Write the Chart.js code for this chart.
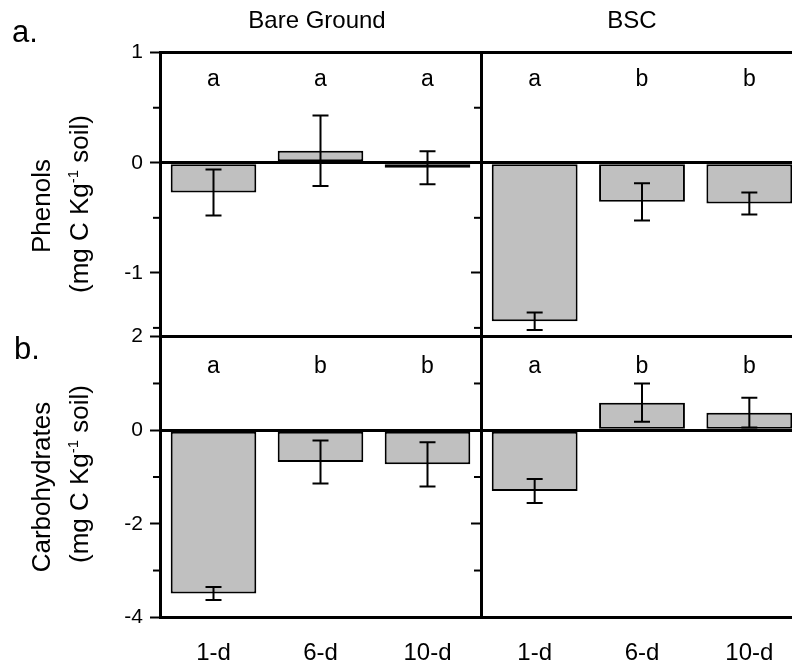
<!DOCTYPE html>
<html>
<head>
<meta charset="utf-8">
<script src="https://cdn.jsdelivr.net/npm/chart.js@4.4.0/dist/chart.umd.min.js"></script>
<style>
  body { margin: 0; background: #fff; }
  #wrap { position: relative; width: 792px; height: 668px; overflow: hidden;
          font-family: "Liberation Sans", Arial, sans-serif; color: #000; }
  #wrap canvas { position: absolute; left: 0; top: 0; }
  .lbl { position: absolute; white-space: nowrap; }
  .center { transform: translateX(-50%); }
  .ytitle { position: absolute; white-space: nowrap; font-size: 26px; line-height: 26px;
            transform: translate(-50%, -50%) rotate(-90deg); }
  .ytitle sup { font-size: 15px; line-height: 0; vertical-align: 10px; }
</style>
</head>
<body>
<div id="wrap">
  <canvas id="phenBare" width="810" height="668"></canvas>
  <canvas id="phenBsc" width="810" height="668"></canvas>
  <canvas id="carbBare" width="810" height="668"></canvas>
  <canvas id="carbBsc" width="810" height="668"></canvas>

  <div class="lbl center" style="left:317px;top:8px;font-size:24px;line-height:24px">Bare Ground</div>
  <div class="lbl center" style="left:632px;top:8px;font-size:24px;line-height:24px">BSC</div>
  <div class="lbl" style="left:12px;top:17px;font-size:31px;line-height:30px">a.</div>
  <div class="lbl" style="left:14px;top:334px;font-size:31px;line-height:30px">b.</div>

  <div class="ytitle" style="left:41px;top:206px">Phenols</div>
  <div class="ytitle" style="left:79px;top:204px">(mg C Kg<sup>-1</sup> soil)</div>
  <div class="ytitle" style="left:41px;top:487px">Carbohydrates</div>
  <div class="ytitle" style="left:79px;top:474px">(mg C Kg<sup>-1</sup> soil)</div>
</div>
<script>
// categories
const days = ['1-d', '6-d', '10-d'];

// Phenols (a.)
const phenolsBare = [-0.27, 0.11, -0.045];
const phenolsBareErr = [0.21, 0.32, 0.15];
const phenolsBareLetters = ['a', 'a', 'a'];
const phenolsBsc = [-1.44, -0.355, -0.37];
const phenolsBscErr = [0.08, 0.17, 0.10];
const phenolsBscLetters = ['a', 'b', 'b'];
const phenolsRange = [-1.58, 1];
const phenolsTicks = [1, 0, -1];
const phenolsMinor = [0.5, -0.5, -1.5];

// Carbohydrates (b.)
const carbsBare = [-3.49, -0.68, -0.73];
const carbsBareErr = [0.14, 0.46, 0.475];
const carbsBareLetters = ['a', 'b', 'b'];
const carbsBsc = [-1.30, 0.59, 0.376];
const carbsBscErr = [0.255, 0.41, 0.32];
const carbsBscLetters = ['a', 'b', 'b'];
const carbsRange = [-4, 2];
const carbsTicks = [2, 0, -2, -4];
const carbsMinor = [1, -1, -3];

const FONT = '"Liberation Sans", Arial, sans-serif';
const CANVAS_W = 810, CANVAS_H = 668;

// error bars drawn from the y scale
const errorBars = {
  id: 'errorBars',
  afterDatasetsDraw(chart, args, opts) {
    const ctx = chart.ctx;
    const y = chart.scales.y;
    const vals = chart.data.datasets[0].data;
    ctx.save();
    ctx.strokeStyle = '#000';
    ctx.lineWidth = 2;
    chart.getDatasetMeta(0).data.forEach((bar, i) => {
      const hi = y.getPixelForValue(vals[i] + opts.errors[i]);
      const lo = y.getPixelForValue(vals[i] - opts.errors[i]);
      ctx.beginPath();
      ctx.moveTo(bar.x, hi); ctx.lineTo(bar.x, lo);
      ctx.moveTo(bar.x - 8, hi); ctx.lineTo(bar.x + 8, hi);
      ctx.moveTo(bar.x - 8, lo); ctx.lineTo(bar.x + 8, lo);
      ctx.stroke();
    });
    ctx.restore();
  }
};

// significance letters + minor ticks
const panelExtras = {
  id: 'panelExtras',
  afterDraw(chart, args, opts) {
    const ctx = chart.ctx;
    const y = chart.scales.y;
    ctx.save();
    ctx.fillStyle = '#000';
    ctx.font = '23px ' + FONT;
    ctx.textAlign = 'center';
    ctx.textBaseline = 'alphabetic';
    chart.getDatasetMeta(0).data.forEach((bar, i) => {
      ctx.fillText(opts.letters[i], bar.x, chart.chartArea.top + opts.letterOffset);
    });
    ctx.strokeStyle = '#000';
    ctx.lineWidth = 2;
    opts.minor.forEach(v => {
      const py = y.getPixelForValue(v);
      ctx.beginPath();
      ctx.moveTo(y.right - 7, py);
      ctx.lineTo(y.right, py);
      ctx.stroke();
    });
    ctx.restore();
  }
};

function makePanel(id, cfg) {
  const yWidth = cfg.showLabels ? 60 : 10;
  const xHeight = cfg.showX ? 50 : 0;
  const [min, max] = cfg.range;
  new Chart(document.getElementById(id), {
    type: 'bar',
    data: {
      labels: days,
      datasets: [{
        data: cfg.values,
        backgroundColor: '#c0c0c0',
        borderColor: '#000',
        borderWidth: 2,
        borderSkipped: false,
        categoryPercentage: 1,
        barPercentage: 0.8
      }]
    },
    options: {
      responsive: false,
      animation: false,
      events: [],
      layout: {
        padding: {
          left: cfg.left - yWidth,
          right: CANVAS_W - cfg.right,
          top: cfg.top,
          bottom: CANVAS_H - cfg.bottom - xHeight
        }
      },
      plugins: {
        legend: { display: false },
        tooltip: { enabled: false },
        errorBars: { errors: cfg.errors },
        panelExtras: { letters: cfg.letters, letterOffset: cfg.letterOffset, minor: cfg.minor }
      },
      scales: {
        x: {
          display: cfg.showX,
          grid: { display: false, drawTicks: false },
          border: { display: true, color: '#000', width: 3 },
          ticks: { color: '#000', font: { family: FONT, size: 24 }, padding: 22 },
          afterFit: s => { if (cfg.showX) s.height = xHeight; }
        },
        y: {
          min: min,
          max: max,
          afterBuildTicks: s => { s.ticks = cfg.ticks.map(v => ({ value: v })); },
          grid: {
            drawTicks: true,
            tickLength: 10,
            tickWidth: 2,
            tickColor: '#000',
            lineWidth: 3,
            color: c => (c.tick && (c.tick.value === 0 || c.tick.value === max)) ? '#000' : 'rgba(0,0,0,0)'
          },
          border: { display: true, color: '#000', width: 3 },
          ticks: {
            display: cfg.showLabels,
            color: '#000',
            padding: 7,
            font: { family: FONT, size: 21 },
            callback: v => String(v)
          },
          afterFit: s => { s.width = yWidth; }
        }
      }
    },
    plugins: [errorBars, panelExtras]
  });
}

const topRow = { top: 52.7, bottom: 336.7, range: phenolsRange, ticks: phenolsTicks, minor: phenolsMinor, showX: false, letterOffset: 33.5 };
const botRow = { top: 336.7, bottom: 617.3, range: carbsRange, ticks: carbsTicks, minor: carbsMinor, showX: true, letterOffset: 36.5 };
const leftCol = { left: 160, right: 481, showLabels: true };
const rightCol = { left: 481, right: 803, showLabels: false };

makePanel('phenBare', { ...topRow, ...leftCol, values: phenolsBare, errors: phenolsBareErr, letters: phenolsBareLetters });
makePanel('phenBsc', { ...topRow, ...rightCol, values: phenolsBsc, errors: phenolsBscErr, letters: phenolsBscLetters });
makePanel('carbBare', { ...botRow, ...leftCol, values: carbsBare, errors: carbsBareErr, letters: carbsBareLetters });
makePanel('carbBsc', { ...botRow, ...rightCol, values: carbsBsc, errors: carbsBscErr, letters: carbsBscLetters });
</script>
</body>
</html>
